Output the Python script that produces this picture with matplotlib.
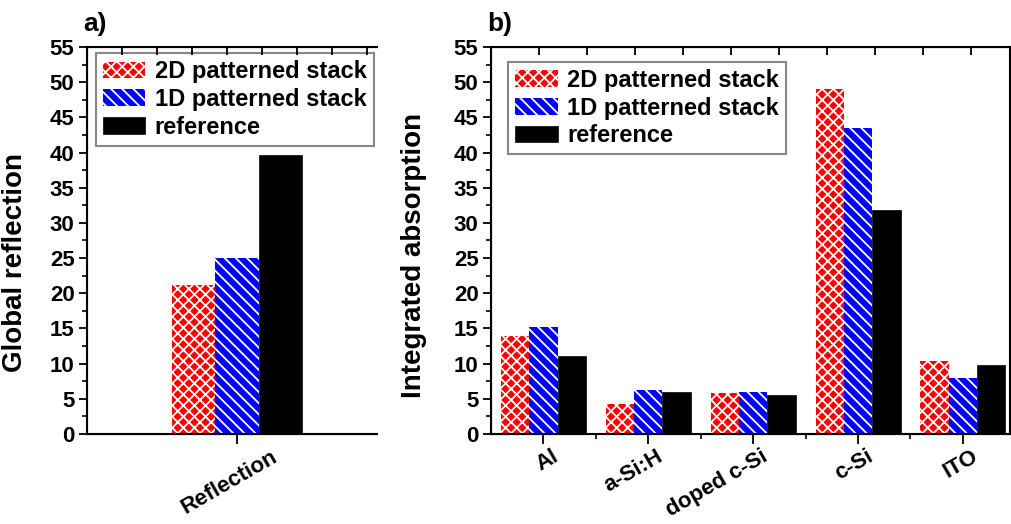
import matplotlib
matplotlib.use("Agg")
import matplotlib.pyplot as plt
import matplotlib.transforms as mtransforms
import numpy as np
from matplotlib.patches import Rectangle
from matplotlib.ticker import MultipleLocator

plt.rcParams["font.family"] = ["Liberation Sans", "DejaVu Sans"]
plt.rcParams["font.weight"] = "bold"
plt.rcParams["hatch.linewidth"] = 1.3

series = ["2D patterned stack", "1D patterned stack", "reference"]

# panel a) global reflection
refl_cats = ["Reflection"]
refl_2d = [21.2]
refl_1d = [25.0]
refl_ref = [39.6]

# panel b) integrated absorption per layer
abs_cats = ["Al", "a-Si:H", "doped c-Si", "c-Si", "ITO"]
abs_2d = [13.9, 4.3, 5.8, 49.0, 10.4]
abs_1d = [15.2, 6.2, 6.0, 43.5, 8.0]
abs_ref = [11.1, 5.9, 5.5, 31.8, 9.8]

styles = [
    dict(facecolor="#ff0000", edgecolor="white", hatch="xxx", linewidth=0),
    dict(facecolor="#0000ff", edgecolor="white", hatch="\\\\\\", linewidth=0),
    dict(facecolor="black", edgecolor="black", linewidth=0.5),
]

fig = plt.figure(figsize=(10.11, 5.24), dpi=100)
ax1 = fig.add_axes([0.0861, 0.1718, 0.2967, 0.7385])
ax2 = fig.add_axes([0.4857, 0.1718, 0.5134, 0.7385])
ax2.set_zorder(2)
# white block hiding the right part of panel a)
fig.add_artist(Rectangle((0.374, 0), 0.7, 1, transform=fig.transFigure,
                         facecolor="white", edgecolor="none", zorder=1))


def draw(ax, cats, vals, width, dx):
    x = np.arange(len(cats))
    for i, (v, st) in enumerate(zip(vals, styles)):
        ax.bar(x + (i - 1) * width, v, width, label=series[i], **st)
    ax.set_xticks(x)
    ax.set_xticklabels([])
    # category labels as rotated texts, nudged right like the original
    trans = ax.get_xaxis_transform() + mtransforms.ScaledTranslation(
        dx / 100, -0.12, fig.dpi_scale_trans)
    for xi, c in zip(x, cats):
        ax.text(xi, 0, c, transform=trans, rotation=30, ha="right", va="top",
                rotation_mode="anchor", fontsize=16, fontweight="bold")
    ax.set_ylim(0, 55)
    ax.yaxis.set_major_locator(MultipleLocator(5))
    ax.yaxis.set_minor_locator(MultipleLocator(2.5))
    ax.tick_params(axis="y", which="major", direction="out", length=6,
                   width=1.3, labelsize=16, pad=3)
    ax.tick_params(axis="y", which="minor", direction="out", length=3.5, width=1.2)
    ax.tick_params(axis="x", which="major", direction="out", length=7, width=1.3)
    ax.tick_params(axis="x", which="minor", direction="out", length=3.5, width=1.2)
    for s in ax.spines.values():
        s.set_linewidth(1.5)


draw(ax1, refl_cats, [refl_2d, refl_1d, refl_ref], 0.29, 34)
ax1.set_xlim(-1, 1)
ax1.spines["right"].set_visible(False)
top1 = ax1.twiny()
top1.set_xlim(0, 300 / 35)
top1.xaxis.set_major_locator(MultipleLocator(1))
top1.tick_params(axis="x", direction="in", length=6, width=1.3, labeltop=False)
top1.spines["right"].set_visible(False)

draw(ax2, abs_cats, [abs_2d, abs_1d, abs_ref], 0.27, 8)
ax2.set_xlim(-0.5, 4.45)
ax2.set_xticks(np.arange(len(abs_cats) - 1) + 0.5, minor=True)
ax2.tick_params(axis="y", which="both", right=True)
top2 = ax2.twiny()
top2.set_xlim(0, 519 / 48)
top2.xaxis.set_major_locator(MultipleLocator(1))
top2.tick_params(axis="x", direction="in", length=6, width=1.3, labeltop=False)

ax1.set_ylabel("Global reflection", fontsize=20, fontweight="bold")
ax1.yaxis.set_label_coords(-0.197, 0.442)
ax2.set_ylabel("Integrated absorption", fontsize=20, fontweight="bold")
ax2.yaxis.set_label_coords(-0.123, 0.462)

leg_kw = dict(loc="upper left", fontsize=17, frameon=True, fancybox=False,
              edgecolor="#888888", framealpha=1, borderaxespad=0,
              handlelength=1.8, handleheight=0.7, handletextpad=0.4,
              labelspacing=0.2, borderpad=0.3)
l1 = ax1.legend(bbox_to_anchor=(0.029, 0.984), **leg_kw)
l2 = ax2.legend(bbox_to_anchor=(0.0333, 0.962), **leg_kw)
for lg in (l1, l2):
    lg.get_frame().set_linewidth(1.5)

fig.text(0.082, 1 - 31 / 524, "a)", fontsize=19, fontweight="bold")
fig.text(0.482, 1 - 31 / 524, "b)", fontsize=19, fontweight="bold")

fig.savefig("out.png", dpi=100)
